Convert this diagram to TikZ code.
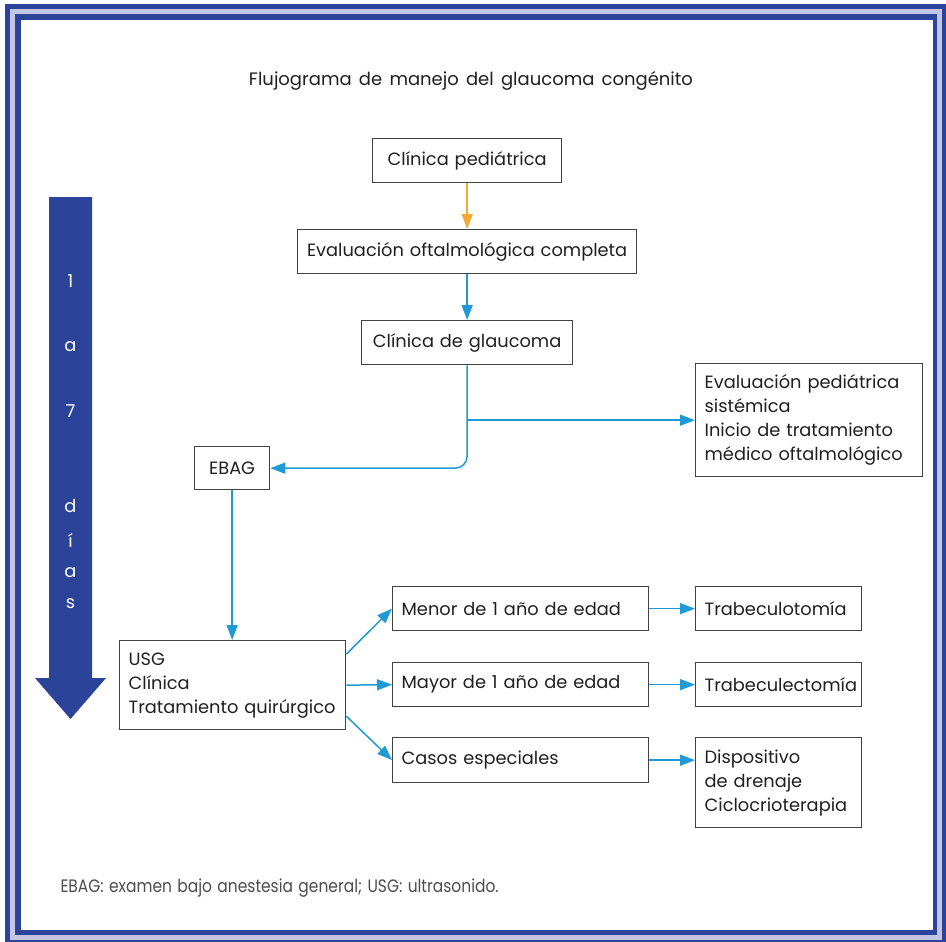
\documentclass[tikz,border=0pt]{standalone}
\usepackage{fontspec}
\setmainfont{Poppins}[WordSpace=1.5]
\newfontfamily\notefont{Poppins}[FakeStretch=0.86,WordSpace=1.3]
\usetikzlibrary{arrows.meta,calc}
\definecolor{dkblue}{HTML}{2B449A}
\definecolor{lav}{HTML}{C4C4E4}
\definecolor{conblue}{HTML}{1E9AD6}
\definecolor{conorange}{HTML}{F6A833}
\definecolor{txt}{HTML}{231F20}
\tikzset{
  box/.style={draw=txt!85, line width=1.3pt, text=txt, font=\fontsize{17.8}{24}\selectfont, inner xsep=9pt, inner ysep=0pt, align=left, anchor=north west},
  conn/.style={draw=conblue, line width=1.5pt, -{Triangle[length=15pt,width=11pt]}},
  orconn/.style={draw=conorange, line width=1.5pt, -{Triangle[length=15pt,width=11pt]}},
  daytxt/.style={text=white, font=\fontsize{17.8}{20}\selectfont}
}
\newcommand{\bx}[7]{% name, x1, y1, x2, y2, align, text
  \node[box, minimum width=#4-#2, minimum height=#5-#3, text width=#4-#2-18pt, align=#6] (#1) at (#2,#3) {#7};}
\begin{document}
\begin{tikzpicture}[x=1pt,y=-1pt]
\useasboundingbox[fill=white] (0,0) rectangle (946,942);
% frame
\fill[dkblue] (5,4) rectangle (946,942);
\fill[lav] (10,9) rectangle (942,940);
\fill[dkblue] (15,14) rectangle (937,935);
\fill[white] (21,20) rectangle (933,930);
% big arrow
\fill[dkblue] (49,197) -- (92,197) -- (92,678) -- (106,678) -- (70.5,719) -- (35,678) -- (49,678) -- cycle;
\foreach \t/\y in {1/281,a/347,7/411,d/506,í/541,a/573,s/604}
  \node[daytxt] at (70.5,\y) {\t};
% title
\node[text=txt, font=\fontsize{18}{20}\selectfont] (title) at (471,81) {Flujograma de manejo del glaucoma congénito};
% boxes
\bx{cp}{372}{138}{561}{182}{center}{Clínica pediátrica}
\bx{eo}{297}{229}{636}{273}{center}{Evaluación oftalmológica completa}
\bx{cg}{361}{320}{572}{364}{center}{Clínica de glaucoma}
\bx{ev}{695}{363}{922}{476}{left}{Evaluación pediátrica\\sistémica\\Inicio de tratamiento\\médico oftalmológico}
\bx{eb}{194}{446}{269}{489}{center}{EBAG}
\bx{us}{119}{640}{345}{729}{left}{USG\\Clínica\\Tratamiento quirúrgico}
\bx{me}{392}{586}{648}{630}{left}{Menor de 1 año de edad}
\bx{ma}{392}{662}{648}{706}{left}{Mayor de 1 año de edad}
\bx{ca}{392}{737}{648}{782}{left}{Casos especiales}
\bx{tt}{695}{586}{861}{630}{left}{Trabeculotomía}
\bx{tc}{695}{662}{861}{706}{left}{Trabeculectomía}
\bx{di}{695}{737}{861}{827}{left}{Dispositivo\\de drenaje\\Ciclocrioterapia}
% connectors
\draw[orconn] (cp.south) -- (eo.north);
\draw[conn] (eo.south) -- (cg.north);
\draw[conn, rounded corners=12pt] (cg.south) |- (eb.east);
\draw[conn] (cg.south |- ev.west) -- (ev.west);
\draw[conn] (eb.south) -- (eb.south |- us.north);
\draw[conn] ($(us.east)+(0,-31)$) -- (me.west);
\draw[conn] (us.east) -- (ma.west);
\draw[conn] ($(us.east)+(0,31)$) -- (ca.west);
\draw[conn] (me.east) -- (tt.west);
\draw[conn] (ma.east) -- (tc.west);
\draw[conn] (ca.east) -- (ca.east -| di.west);
% note
\node[anchor=west, text=txt!80, font=\notefont\fontsize{18}{20}\selectfont] (note) at (57,888) {EBAG: examen bajo anestesia general; USG: ultrasonido.};
\end{tikzpicture}
\end{document}
